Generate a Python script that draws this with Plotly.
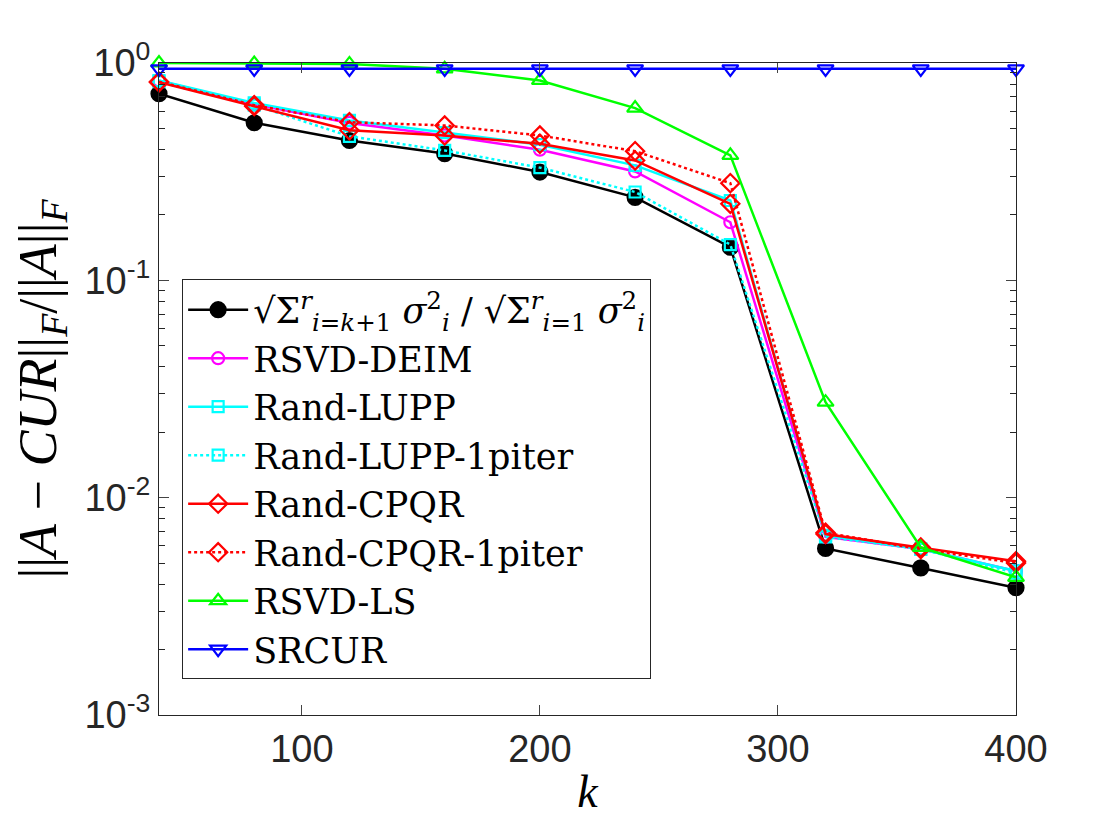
import plotly.graph_objects as go

# k values and relative errors
k = [40, 80, 120, 160, 200, 240, 280, 320, 360, 400]
svd_tail = [0.722, 0.531, 0.440, 0.383, 0.315, 0.241, 0.142, 0.00584, 0.00475, 0.00385]
rsvd_deim = [0.83, 0.645, 0.530, 0.464, 0.399, 0.317, 0.185, 0.0066, 0.0058, 0.0046]
rand_lupp = [0.83, 0.655, 0.544, 0.478, 0.421, 0.338, 0.233, 0.0067, 0.0058, 0.0046]
rand_lupp_1p = [0.82, 0.640, 0.460, 0.396, 0.330, 0.255, 0.146, 0.0066, 0.0058, 0.0045]
rand_cpqr = [0.815, 0.633, 0.490, 0.464, 0.425, 0.356, 0.225, 0.0068, 0.0059, 0.0051]
rand_cpqr_1p = [0.82, 0.640, 0.534, 0.516, 0.464, 0.393, 0.280, 0.0069, 0.0058, 0.0050]
rsvd_ls = [1.0, 0.995, 0.99, 0.94, 0.831, 0.620, 0.376, 0.0275, 0.0059, 0.0043]
srcur = [0.94, 0.94, 0.94, 0.94, 0.94, 0.94, 0.94, 0.94, 0.94, 0.94]

x_ticks = [100, 200, 300, 400]
y_ticks = [0.001, 0.01, 0.1, 1]
y_ticktext = ['10<sup>-3</sup>', '10<sup>-2</sup>', '10<sup>-1</sup>', '10<sup>0</sup>']
y_minor = [m * 10.0 ** e for e in (-3, -2, -1) for m in range(2, 10)]

formula = ("√Σ<sup><i>r</i></sup><sub><i>i</i>=<i>k</i>+1</sub> <i>σ</i><sup>2</sup><sub><i>i</i></sub> / "
           "√Σ<sup><i>r</i></sup><sub><i>i</i>=1</sub> <i>σ</i><sup>2</sup><sub><i>i</i></sub>")

series = [
    (formula, svd_tail, '#000000', 'circle', 'solid', 15),
    ('RSVD-DEIM', rsvd_deim, '#FF00FF', 'circle-open', 'solid', 12),
    ('Rand-LUPP', rand_lupp, '#00FFFF', 'square-open', 'solid', 11),
    ('Rand-LUPP-1piter', rand_lupp_1p, '#00FFFF', 'square-open', 'dot', 11),
    ('Rand-CPQR', rand_cpqr, '#FF0000', 'diamond-open', 'solid', 14),
    ('Rand-CPQR-1piter', rand_cpqr_1p, '#FF0000', 'diamond-open', 'dot', 14),
    ('RSVD-LS', rsvd_ls, '#00FF00', 'triangle-up-open', 'solid', 14),
    ('SRCUR', srcur, '#0000FF', 'triangle-down-open', 'solid', 14),
]

fig = go.Figure()
for name, vals, col, sym, dash, size in series:
    fig.add_trace(go.Scatter(x=k, y=vals, name=name, mode='lines+markers',
                             line=dict(color=col, width=2.5, dash=dash),
                             marker=dict(symbol=sym, size=size, color=col,
                                         line=dict(color=col, width=2.2)),
                             cliponaxis=False))

axis_font = dict(family='Liberation Sans, Arial, sans-serif', size=38, color='#262626')

fig.update_layout(
    width=1120, height=840,
    margin=dict(l=151, r=112, t=55, b=133),
    plot_bgcolor='white', paper_bgcolor='white',
    showlegend=True,
    legend=dict(x=0.027, y=0.668, xanchor='left', yanchor='top',
                bordercolor='#262626', borderwidth=1, bgcolor='white',
                font=dict(family='DejaVu Serif, serif', size=35, color='black'),
                tracegroupgap=0, itemwidth=60),
    xaxis=dict(range=[40, 400], tickvals=x_ticks, ticks='inside', ticklen=10,
               showline=True, linecolor='#262626', linewidth=1, mirror='ticks',
               showgrid=False, zeroline=False, tickfont=axis_font,
               title=dict(text='<i>k</i>', standoff=6,
                          font=dict(family='Liberation Serif, serif', size=46, color='black'))),
    yaxis=dict(type='log', range=[-3, 0], tickvals=y_ticks, ticktext=y_ticktext,
               ticks='inside', ticklen=10,
               minor=dict(ticks='inside', ticklen=6, tickvals=y_minor, tickcolor='#262626', showgrid=False),
               showline=True, linecolor='#262626', linewidth=1, mirror='ticks',
               showgrid=False, zeroline=False, tickfont=axis_font,
               title=dict(text='||<i>A</i> − <i>CUR</i>||<sub><i>F</i></sub>/||<i>A</i>||<sub><i>F</i></sub>',
                          standoff=28,
                          font=dict(family='Liberation Serif, serif', size=54, color='black'))),
)

fig.write_html("out.html")
